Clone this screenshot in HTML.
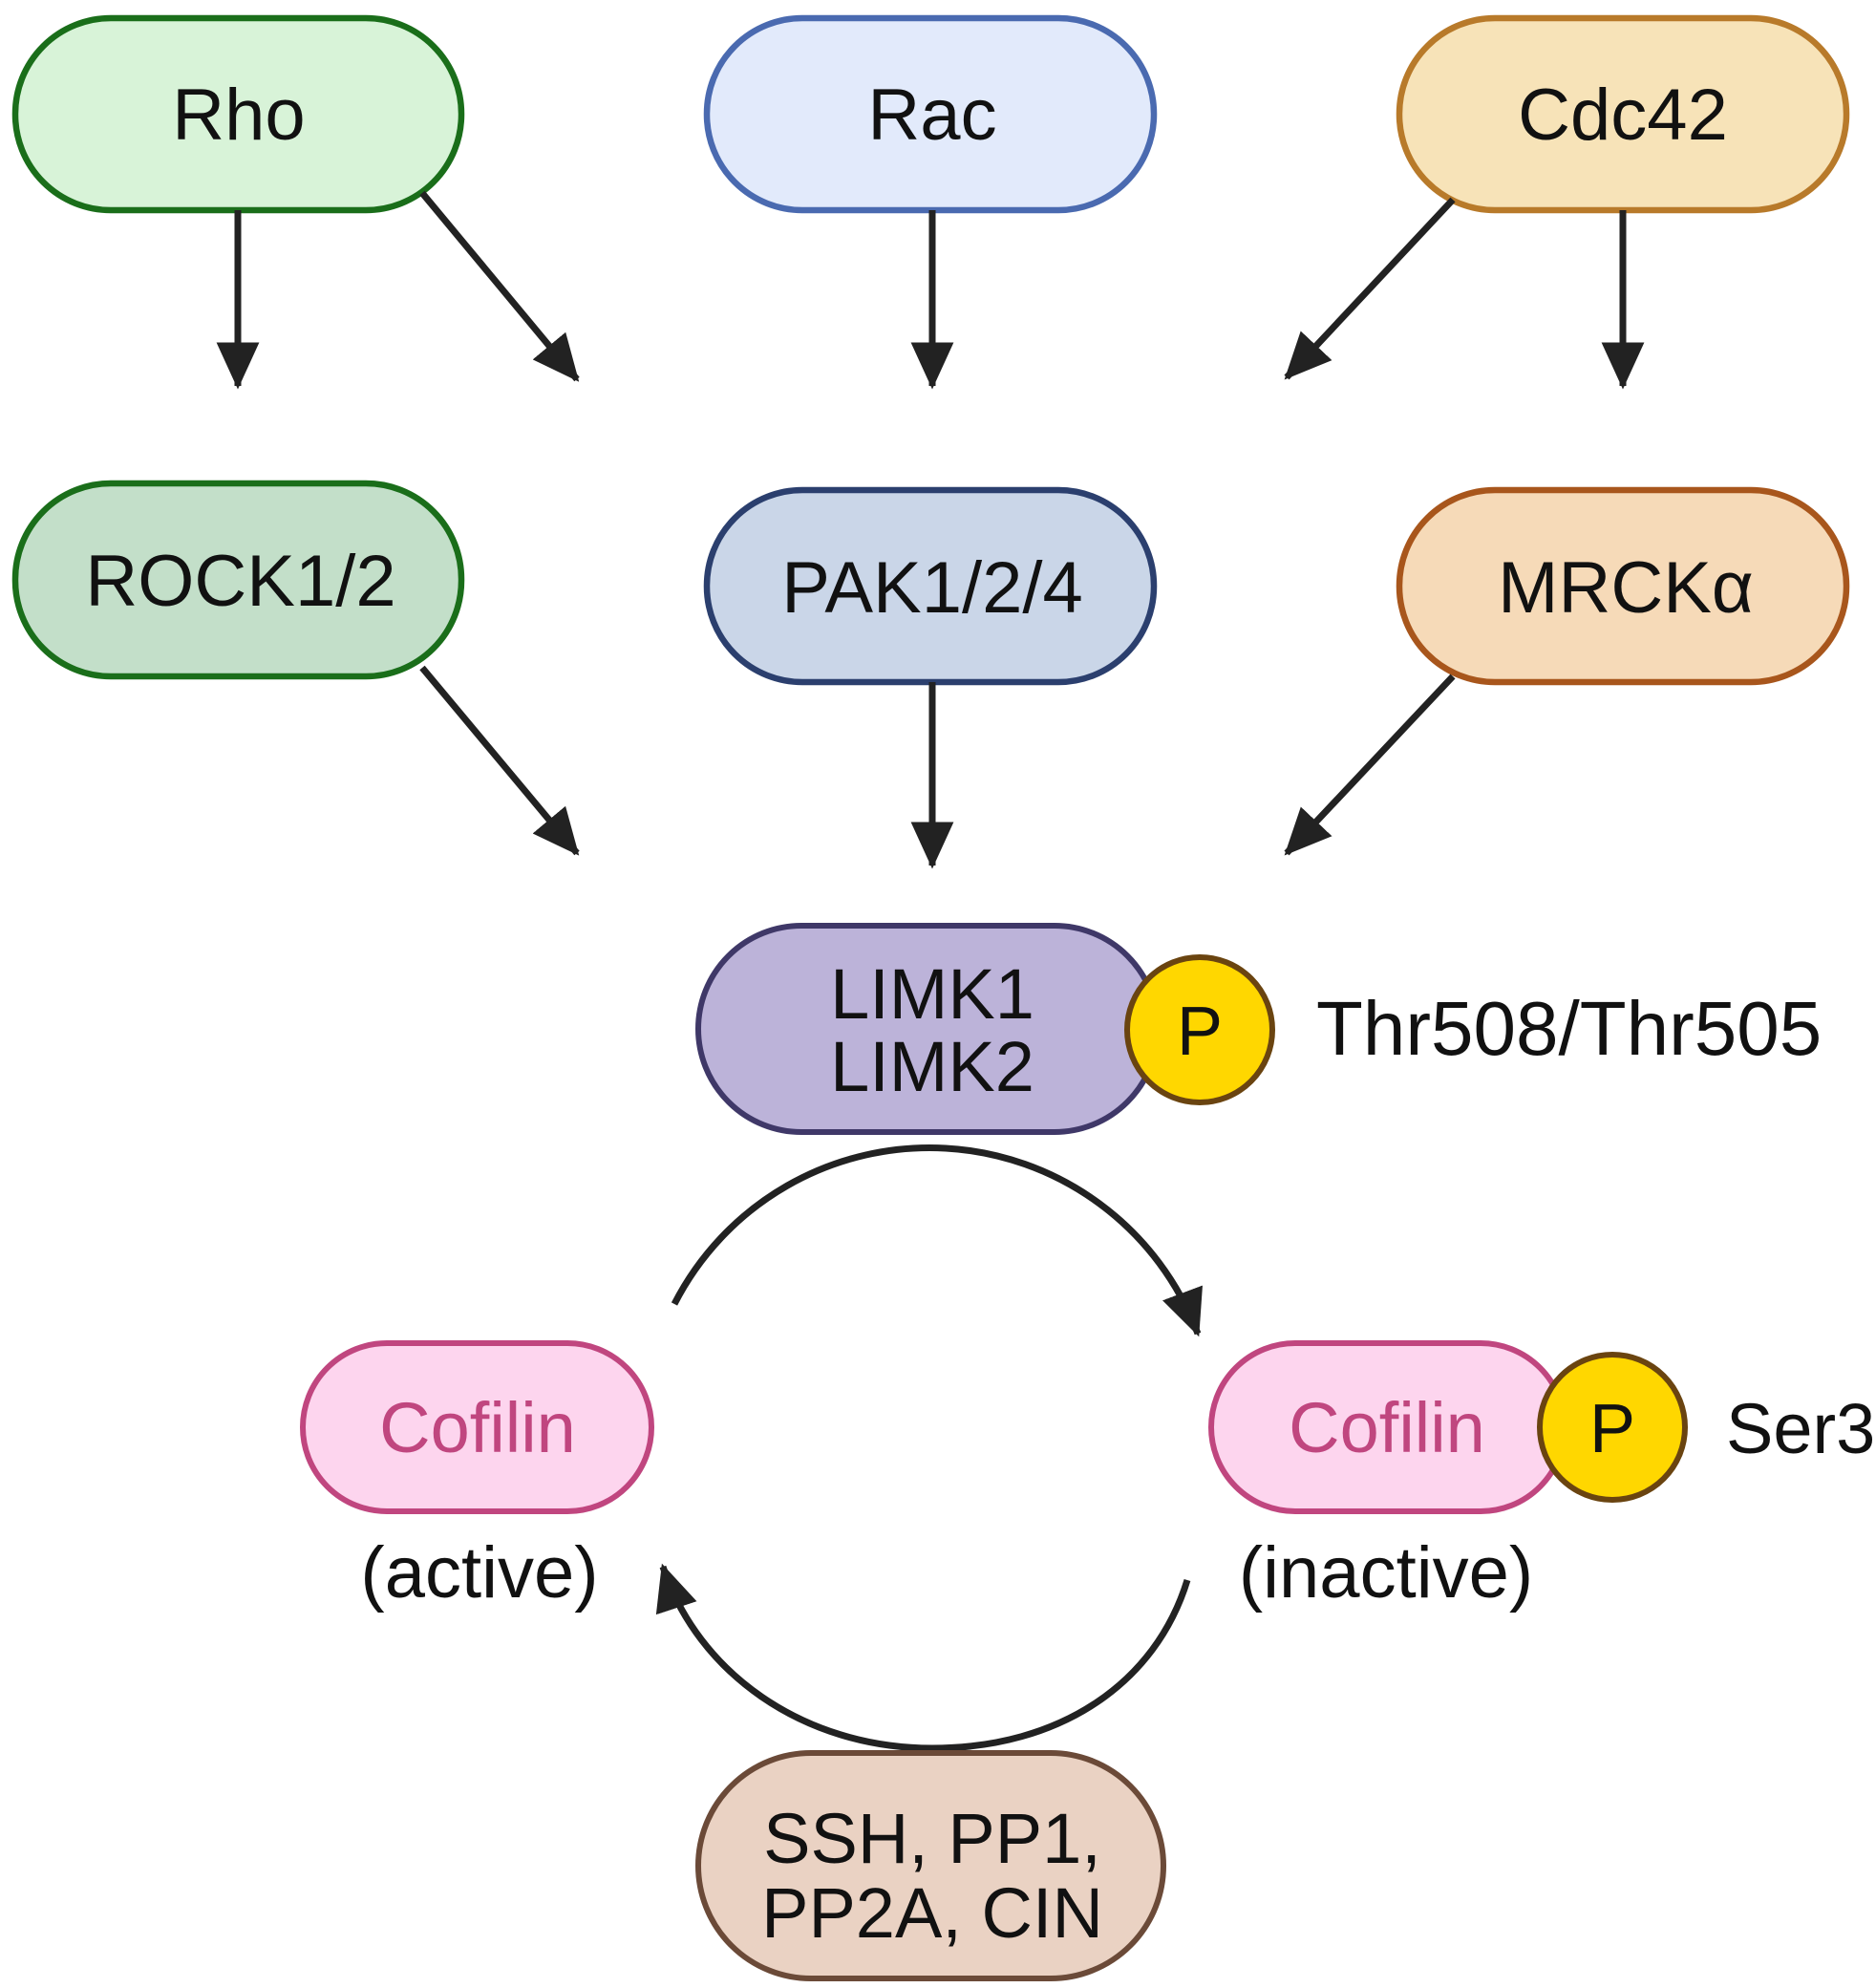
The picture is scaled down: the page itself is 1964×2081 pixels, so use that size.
<!DOCTYPE html>
<html><head><meta charset="utf-8"><style>html,body{margin:0;padding:0;background:#fff}svg{display:block}</style></head>
<body>
<svg width="1964" height="2081" viewBox="0 0 1964 2081" xmlns="http://www.w3.org/2000/svg">
<defs>
<marker id="ah" markerWidth="7" markerHeight="6.4" refX="6.5" refY="3.2" orient="auto" markerUnits="strokeWidth">
<path d="M0,0 L7,3.2 L0,6.4 Z" fill="#222"/>
</marker>
</defs>
<g font-family="Liberation Sans, sans-serif" text-anchor="middle">
<rect x="16" y="19" width="467" height="201" rx="100" fill="#d8f3d8" stroke="#1a6e1a" stroke-width="6.5"/>
<text x="250" y="146" font-size="76" fill="#111">Rho</text>
<rect x="740" y="19" width="468" height="201" rx="100" fill="#e2eafb" stroke="#4a6ab0" stroke-width="6.5"/>
<text x="976" y="146" font-size="76" fill="#111">Rac</text>
<rect x="1465" y="19" width="468" height="201" rx="100" fill="#f7e3b8" stroke="#b87a2a" stroke-width="6.5"/>
<text x="1699" y="146" font-size="76" fill="#111">Cdc42</text>
<rect x="16" y="506" width="467" height="202" rx="100" fill="#c3dfc9" stroke="#1a6e1a" stroke-width="6.5"/>
<text x="252" y="634" font-size="76" fill="#111">ROCK1/2</text>
<rect x="740" y="513" width="468" height="201" rx="100" fill="#cad6e8" stroke="#2b3f6e" stroke-width="6.5"/>
<text x="976" y="641" font-size="76" fill="#111">PAK1/2/4</text>
<rect x="1465" y="513" width="468" height="201" rx="100" fill="#f6dab8" stroke="#a8561c" stroke-width="6.5"/>
<text x="1702" y="641" font-size="76" fill="#111">MRCKα</text>
<g stroke="#222" stroke-width="7" fill="none" marker-end="url(#ah)">
<line x1="249" y1="220" x2="249" y2="404"/>
<line x1="442" y1="202" x2="604" y2="397"/>
<line x1="976" y1="220" x2="976" y2="404"/>
<line x1="1521" y1="209" x2="1347" y2="395"/>
<line x1="1699" y1="220" x2="1699" y2="404"/>
<line x1="442" y1="699" x2="604" y2="893"/>
<line x1="976" y1="714" x2="976" y2="906"/>
<line x1="1521" y1="708" x2="1347" y2="893"/>
<path d="M706 1365 A300 300 0 0 1 1254 1396"/>
<path d="M1243 1654 C1210 1762 1110 1830 976 1830 C840 1830 730 1750 694 1640"/>
</g>
<rect x="731" y="969" width="481" height="216" rx="108" fill="#bcb3d9" stroke="#3f3868" stroke-width="6"/>
<text x="976" y="1066" font-size="74" fill="#111">LIMK1</text>
<text x="976" y="1142" font-size="74" fill="#111">LIMK2</text>
<circle cx="1256" cy="1078" r="76" fill="#ffd700" stroke="#6a4410" stroke-width="6"/>
<text x="1256" y="1104" font-size="72" fill="#111">P</text>
<text x="1378" y="1104" font-size="80" fill="#111" text-anchor="start">Thr508/Thr505</text>
<rect x="317" y="1406" width="365" height="176" rx="88" fill="#fdd5ee" stroke="#c0467f" stroke-width="6"/>
<text x="500" y="1520" font-size="74" fill="#c0467f">Cofilin</text>
<rect x="1268" y="1406" width="370" height="176" rx="88" fill="#fdd5ee" stroke="#c0467f" stroke-width="6"/>
<text x="1452" y="1520" font-size="74" fill="#c0467f">Cofilin</text>
<circle cx="1688" cy="1494" r="76" fill="#ffd700" stroke="#6a4410" stroke-width="6"/>
<text x="1688" y="1520" font-size="72" fill="#111">P</text>
<text x="1807" y="1521" font-size="74" fill="#111" text-anchor="start">Ser3</text>
<text x="502" y="1672" font-size="76" fill="#111">(active)</text>
<text x="1451" y="1672" font-size="76" fill="#111">(inactive)</text>
<rect x="731" y="1835" width="487" height="236" rx="118" fill="#ead2c3" stroke="#6b4a38" stroke-width="6"/>
<text x="976" y="1950" font-size="74" fill="#111">SSH, PP1,</text>
<text x="976" y="2028" font-size="74" fill="#111">PP2A, CIN</text>
</g>
</svg>
</body></html>
